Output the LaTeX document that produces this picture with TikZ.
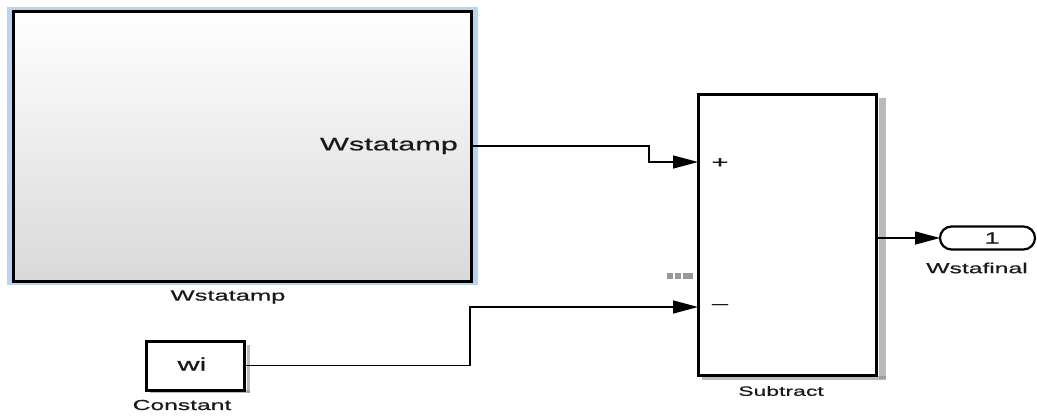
\documentclass[tikz,border=0pt]{standalone}
\usepackage{fontspec}
\setmainfont{Liberation Sans}
\newfontfamily\wide[FakeStretch=1.7,FakeBold=0.6]{Liberation Sans}
\usetikzlibrary{arrows.meta,calc}

\definecolor{halo}{RGB}{184,212,242}
\definecolor{shade}{RGB}{140,140,140}

\tikzset{
  blk/.style={draw=black, line width=3pt, inner sep=0pt, outer sep=0pt},
  shadowbox/.style={fill=shade, draw=none, opacity=0.6},
  sig/.style={draw=black, line width=1.4pt, -{Triangle[length=25pt,width=13pt]}},
  lbl/.style={inner sep=0pt, text=black!90},
}

\begin{document}
\begin{tikzpicture}[x=1pt,y=-1pt]
\useasboundingbox (0,0) rectangle (1037,416);

% selection halo round the subsystem
\fill[halo] (7,7) rectangle (478,285);

% subsystem block with vertical gradient
\node[blk, minimum width=458pt, minimum height=270pt,
      top color=white, bottom color=black!15] (amp) at (242,146) {};
\node[lbl, anchor=east, font=\wide\fontsize{18}{20}\selectfont] (amplbl) at (458,146) {Wstatamp};
\node[lbl, font=\wide\fontsize{15}{17}\selectfont] (ampname) at (228,297) {Wstatamp};

% subtract block
\fill[shadowbox] (879,98) rectangle (886,379);
\fill[shadowbox] (702,376) rectangle (886,380);
\node[blk, fill=white, minimum width=178pt, minimum height=281pt] (sub) at (787,234.5) {};
\node[lbl, font=\wide\fontsize{13.5}{15}\selectfont] (subname) at (781,391) {Subtract};
\node[lbl, font=\wide\fontsize{17}{18}\selectfont] (plus) at (720,163) {+};
\node[lbl, font=\wide\fontsize{17}{18}\selectfont] (minus) at (720,306.5) {\textendash};

% small gray marker left of the lower input
\fill[black!40] (667,273) rectangle (673,279);
\fill[black!40] (675,273) rectangle (681,279);
\fill[black!40] (683,273) rectangle (693,279);

% constant block
\fill[shadowbox] (247,345) rectangle (250,393);
\fill[shadowbox] (150,390) rectangle (250,393);
\node[blk, fill=white, minimum width=98pt, minimum height=49pt] (const) at (195,365.5) {};
\node[lbl, font=\wide\fontsize{18}{20}\selectfont] (constval) at (192,364) {wi};
\node[lbl, font=\wide\fontsize{14.5}{16}\selectfont] (constname) at (182,405) {Constant};

% outport
\node[blk, line width=2.2pt, fill=white, minimum width=95pt, minimum height=23pt,
      rounded corners=11.5pt] (out) at (987.5,238) {};
\node[lbl, font=\wide\fontsize{16}{18}\selectfont] (outnum) at (992,238) {1};
\node[lbl, font=\wide\fontsize{14.5}{16}\selectfont] (outname) at (977,268) {Wstafinal};

% input ports of the subtract block
\coordinate (inP) at (698,162);
\coordinate (inM) at (698,307);
\coordinate (outS) at (876,238);

% signal lines
\draw[sig] (amp.east) -- (649,146) |- (inP);
\draw[sig] (const.east) -- (470,365.5) |- (inM);
\draw[sig] (outS) -- (out.west);
\end{tikzpicture}
\end{document}
